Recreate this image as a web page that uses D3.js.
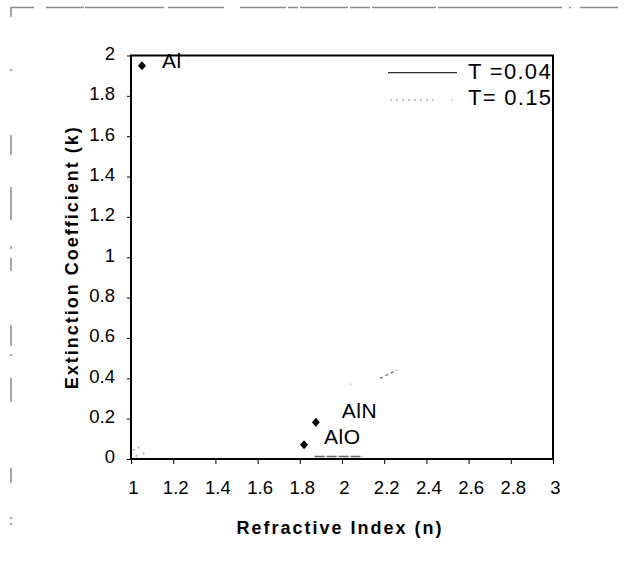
<!DOCTYPE html>
<html>
<head>
<meta charset="utf-8">
<script src="https://cdn.jsdelivr.net/npm/d3@7"></script>
<style>
  html, body { margin: 0; padding: 0; background: #fff; }
  svg { display: block; }
  text { font-family: "Liberation Sans", Arial, sans-serif; fill: #000; }
</style>
</head>
<body>
<script>
// ---------- data ----------
const materials = ["Al", "AlN", "AlO"];
const refractiveN = [1.052, 1.876, 1.82];
const extinctionK = [1.949, 0.182, 0.071];

const xTicks = [1, 1.2, 1.4, 1.6, 1.8, 2, 2.2, 2.4, 2.6, 2.8, 3];
const yTicks = [0, 0.2, 0.4, 0.6, 0.8, 1, 1.2, 1.4, 1.6, 1.8, 2];

const legendLabels = ["T =0.04", "T= 0.15"];

// faint remnants of the T curves visible in the picture
const t015N = [2.18, 2.22, 2.26];
const t015K = [0.40, 0.42, 0.44];
const t015DotN = [2.04];
const t015DotK = [0.37];
const originN = [1.013, 1.036, 1.06, 1.025];
const originK = [0.045, 0.056, 0.028, 0.015];
const t004N = [1.87, 2.1];
const t004K = [0.012, 0.012];

// ---------- layout ----------
const W = 629, H = 582;
const svg = d3.select("body").append("svg").attr("width", W).attr("height", H);
svg.append("rect").attr("width", W).attr("height", H).attr("fill", "#fff");

const x = d3.scaleLinear().domain([1, 3]).range([131, 553]);
const y = d3.scaleLinear().domain([0, 2]).range([459, 55.5]);

// scanned outer frame fragments
const frame = svg.append("g").attr("stroke", "#8a8a8a").attr("stroke-width", 1.5).attr("fill", "none");
[[11, 34], [46, 84], [85, 164], [168, 224], [240, 286], [288, 298], [300, 348], [350, 370], [372, 436], [438, 562], [569, 571], [580, 618]]
  .forEach(s => frame.append("line").attr("x1", s[0]).attr("x2", s[1]).attr("y1", 7.5).attr("y2", 7.5));
const leftFrame = svg.append("g").attr("stroke", "#6a6a6a").attr("stroke-width", 1.2);
[[7, 17], [69, 71], [135, 155], [187, 220], [246, 249], [258, 271], [325, 346], [354, 356], [378, 402], [468, 483], [517, 519], [523, 525]]
  .forEach(s => leftFrame.append("line").attr("x1", 11).attr("x2", 11).attr("y1", s[0]).attr("y2", s[1]));

// ---------- axes ----------
const xAxis = svg.append("g").attr("transform", `translate(0,${y(0)})`)
  .call(d3.axisBottom(x).tickValues(xTicks).tickSize(5).tickSizeOuter(0).tickFormat(d3.format("")));
xAxis.select(".domain").remove();
xAxis.selectAll(".tick line").attr("stroke", "#000").attr("stroke-width", 1);
xAxis.selectAll(".tick text")
  .attr("y", 34.5).attr("dy", 0).attr("dx", 2)
  .style("font-size", "18.5px").style("font-family", "Liberation Sans, Arial, sans-serif");

const yAxis = svg.append("g").attr("transform", `translate(${x(1)},0)`)
  .call(d3.axisLeft(y).tickValues(yTicks).tickSize(4).tickSizeOuter(0).tickFormat(d3.format("")));
yAxis.select(".domain").remove();
yAxis.selectAll(".tick line").attr("stroke", "#000").attr("stroke-width", 1);
yAxis.selectAll(".tick text")
  .attr("x", -16).attr("dy", "0.32em").attr("y", -2)
  .style("font-size", "18.5px").style("font-family", "Liberation Sans, Arial, sans-serif");

// plot frame
svg.append("rect")
  .attr("x", x(1)).attr("y", y(2))
  .attr("width", x(3) - x(1)).attr("height", y(0) - y(2))
  .attr("fill", "none").attr("stroke", "#000").attr("stroke-width", 2);

// ---------- faint curve remnants ----------
const line = d3.line().x(d => x(d[0])).y(d => y(d[1]));
svg.append("path").datum(d3.zip(t015N, t015K)).attr("d", line)
  .attr("fill", "none").attr("stroke", "#555").attr("stroke-width", 1.2).attr("stroke-dasharray", "3,3");
svg.selectAll(".t015dot").data(d3.zip(t015DotN, t015DotK)).join("circle")
  .attr("cx", d => x(d[0])).attr("cy", d => y(d[1])).attr("r", 0.8).attr("fill", "#aaa");
svg.selectAll(".odot").data(d3.zip(originN, originK)).join("circle")
  .attr("cx", d => x(d[0])).attr("cy", d => y(d[1])).attr("r", 0.9).attr("fill", "#999");
svg.append("path").datum(d3.zip(t004N, t004K)).attr("d", line)
  .attr("fill", "none").attr("stroke", "#666").attr("stroke-width", 1.5).attr("stroke-dasharray", "10,2");

// ---------- points ----------
const pts = d3.zip(materials, refractiveN, extinctionK);
const diamond = "M0,-4.5L4,0L0,4.5L-4,0Z";
svg.selectAll(".pt").data(pts).join("path")
  .attr("d", diamond)
  .attr("transform", d => `translate(${x(d[1])},${y(d[2])})`)
  .attr("fill", "#000");

const labelNudge = [[20, 2.6], [26, -4], [20, -0.7]];
svg.selectAll(".lbl").data(pts).join("text")
  .attr("x", (d, i) => x(d[1]) + labelNudge[i][0])
  .attr("y", (d, i) => y(d[2]) + labelNudge[i][1])
  .style("font-size", "21px").style("letter-spacing", "0.5px")
  .text(d => d[0]);

// ---------- legend ----------
svg.append("clipPath").attr("id", "plotclip").append("rect")
  .attr("x", x(1)).attr("y", y(2)).attr("width", x(3) - x(1)).attr("height", y(0) - y(2));
const lg = svg.append("g").attr("clip-path", "url(#plotclip)");
lg.append("line").attr("x1", 388).attr("x2", 457).attr("y1", 72.7).attr("y2", 72.7)
  .attr("stroke", "#000").attr("stroke-width", 1);
lg.append("line").attr("x1", 390).attr("x2", 437).attr("y1", 100).attr("y2", 100)
  .attr("stroke", "#888").attr("stroke-width", 1).attr("stroke-dasharray", "2,4");
lg.append("circle").attr("cx", 452).attr("cy", 100).attr("r", 0.7).attr("fill", "#888");
lg.selectAll(".lt").data(legendLabels).join("text")
  .attr("x", 468).attr("y", (d, i) => 79 + i * 26)
  .style("font-size", "22px").style("letter-spacing", "1.3px")
  .text(d => d);

// ---------- axis titles ----------
svg.append("text")
  .attr("x", 340).attr("y", 534)
  .attr("text-anchor", "middle")
  .style("font-size", "18px").style("font-weight", "bold").style("letter-spacing", "2px")
  .text("Refractive Index (n)");
svg.append("text")
  .attr("transform", `translate(78,${(y(0) + y(2)) / 2}) rotate(-90)`)
  .attr("text-anchor", "middle")
  .style("font-size", "18px").style("font-weight", "bold").style("letter-spacing", "2px")
  .text("Extinction Coefficient (k)");
</script>
</body>
</html>
